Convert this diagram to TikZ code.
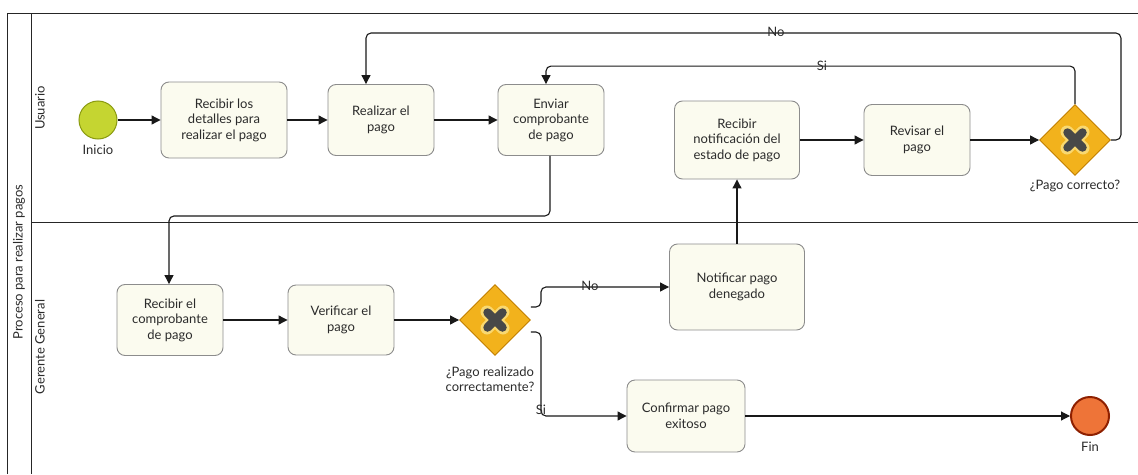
\documentclass[tikz,border=0pt]{standalone}
\usepackage{fontspec}
\setmainfont{Lato}
\usetikzlibrary{shapes.geometric,arrows.meta,calc}

\definecolor{taskfill}{HTML}{FBFBEF}
\definecolor{taskline}{HTML}{8C8C8C}
\definecolor{startfill}{HTML}{C5D531}
\definecolor{startline}{HTML}{8A9A10}
\definecolor{endfill}{HTML}{EE7438}
\definecolor{endline}{HTML}{8E2000}
\definecolor{gwfill}{HTML}{F2B21C}
\definecolor{gwline}{HTML}{C27F00}
\definecolor{gwglow}{HTML}{F9D870}
\definecolor{gwmark}{HTML}{484848}
\definecolor{txt}{HTML}{2B2B2B}

\tikzset{
  task/.style={draw=taskline, fill=taskfill, line width=0.9pt, rounded corners=8pt,
    align=center, text=txt, font=\fontsize{13}{15.5}\selectfont, inner sep=2pt},
  startev/.style={circle, draw=startline, fill=startfill, line width=1pt,
    minimum size=38pt, inner sep=0pt},
  endev/.style={circle, draw=endline, fill=endfill, line width=2pt,
    minimum size=38pt, inner sep=0pt},
  gateway/.style={diamond, aspect=1, draw=gwline, fill=gwfill, line width=0.9pt,
    minimum width=71pt, minimum height=71pt, inner sep=0pt},
  flow/.style={draw=black!90, line width=1.1pt, rounded corners=5pt,
    -{Triangle[length=9pt,width=9pt]}},
  lbl/.style={text=txt, font=\fontsize{13}{15}\selectfont, align=center, inner sep=0pt},
  lane/.style={draw=black!85, line width=0.9pt},
}

\newcommand{\gwcross}[1]{%
  \draw[gwglow, line width=13pt, line cap=round]
    ($(#1)+(-8,-8)$) -- ($(#1)+(8,8)$) ($(#1)+(-8,8)$) -- ($(#1)+(8,-8)$);
  \draw[gwmark, line width=8.5pt, line cap=round]
    ($(#1)+(-7.5,-7.5)$) -- ($(#1)+(7.5,7.5)$) ($(#1)+(-7.5,7.5)$) -- ($(#1)+(7.5,-7.5)$);
}

\begin{document}
\begin{tikzpicture}[x=1pt, y=-1pt]
\useasboundingbox (0,0) rectangle (1138,474);

% pool and lanes
\draw[lane] (7,474) -- (7,13) -- (1138,13);
\draw[lane] (31,13) -- (31,474);
\draw[lane] (31,222) -- (1138,222);
\node[lbl, rotate=90] (pool) at (19,262) {Proceso para realizar pagos};
\node[lbl, rotate=90] (laneU) at (40,108) {Usuario};
\node[lbl, rotate=90] (laneG) at (40,347) {Gerente General};

% Usuario lane
\node[startev] (start) at (98,120) {};
\node[lbl] (startlbl) at (98,150) {Inicio};
\node[task, minimum width=126pt, minimum height=76pt] (t1) at (224,120)
  {Recibir los\\detalles para\\realizar el pago};
\node[task, minimum width=106pt, minimum height=71pt] (t2) at (381,120)
  {Realizar el\\pago};
\node[task, minimum width=106pt, minimum height=71pt] (t3) at (551,120)
  {Enviar\\comprobante\\de pago};
\node[task, minimum width=125pt, minimum height=78pt] (t4) at (737,140)
  {Recibir\\notificación del\\estado de pago};
\node[task, minimum width=106pt, minimum height=71pt] (t5) at (917,140)
  {Revisar el\\pago};
\node[gateway] (g1) at (1075,140) {};
\gwcross{g1}
\node[lbl] (g1lbl) at (1075,186) {¿Pago correcto?};

% Gerente General lane
\node[task, minimum width=106pt, minimum height=71pt] (t7) at (170,320)
  {Recibir el\\comprobante\\de pago};
\node[task, minimum width=106pt, minimum height=70pt] (t8) at (341,320)
  {Verificar el\\pago};
\node[gateway] (g2) at (495,320) {};
\gwcross{g2}
\node[lbl] (g2lbl) at (490,379) {¿Pago realizado\\correctamente?};
\node[task, minimum width=135pt, minimum height=86pt] (t10) at (737,287)
  {Notificar pago\\denegado};
\node[task, minimum width=118pt, minimum height=72pt] (t11) at (686,416)
  {Confirmar pago\\exitoso};
\node[endev] (fin) at (1090,416) {};
\node[lbl] (finlbl) at (1090,447) {Fin};

% sequence flows
\draw[flow] (start) -- (t1);
\draw[flow] (t1) -- (t2);
\draw[flow] (t2) -- (t3);
\draw[flow] ($(t3.south)+(-1,0)$) -- ++(0,60) -| ($(t7.north)+(-1,0)$);
\draw[flow] (t7) -- (t8);
\draw[flow] (t8) -- (g2);
\draw[flow] ($(g2.east)+(0,-13)$) -- ++(10,0) |- (t10.west);
\draw[flow] ($(g2.east)+(0,12)$) -- ++(10,0) |- (t11.west);
\draw[flow] (t10) -- (t4);
\draw[flow] (t4) -- (t5);
\draw[flow] (t5) -- (g1);
\draw[flow] (g1.north) -- ++(0,-38) -| ($(t3.north)+(-5,0)$);
\draw[flow] (g1.east) -| ($(g1.east)+(10,-107)$) -| ($(t2.north)+(-15,0)$);
\draw[flow] (t11) -- (fin);

% flow labels
\node[lbl] (noTop) at (776,32) {No};
\node[lbl] (siTop) at (822,66) {Si};
\node[lbl] (noLow) at (590,286) {No};
\node[lbl] (siLow) at (541,410) {Si};
\end{tikzpicture}
\end{document}
